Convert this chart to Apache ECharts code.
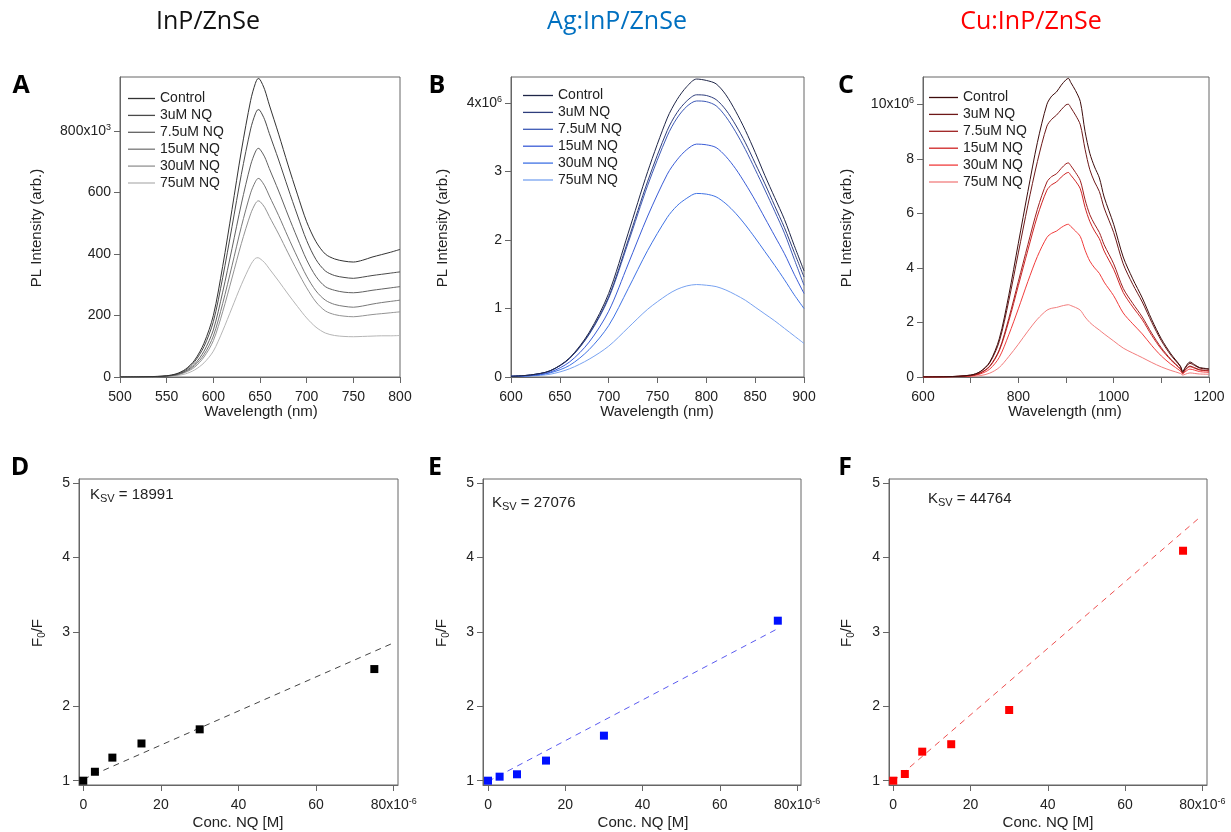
<!DOCTYPE html>
<html><head><meta charset="utf-8">
<script src="https://cdn.jsdelivr.net/npm/echarts@6/dist/echarts.min.js"></script>
<style>html,body{margin:0;padding:0;background:#fff}#c{width:1231px;height:832px}</style>
</head><body><div id="c"></div>
<script>
// ---------- DATA ----------
const seriesNames = ['Control','3uM NQ','7.5uM NQ','15uM NQ','30uM NQ','75uM NQ'];

// Panel A: InP/ZnSe, PL intensity in units of 1e3
const wlA = [500,520,540,550,560,570,580,590,600,610,620,630,640,645,648,650,655,660,670,680,690,700,710,720,730,740,750,760,770,780,790,800];
const inpControl = [0,0.5,2,4,10,25,55,110,200,360,545,735,900,955,971,968,935,885,790,690,595,505,440,400,384,377,374,380,390,398,406,415];
const inp3 = [0,0.5,1.8,3.6,9,22,50,99,180,323,489,659,807,856,870,867,837,792,706,615,527,444,382,345,330,324,321,325,330,334,338,342];
const inp7_5 = [0,0.4,1.5,3.1,7.7,19,42,84,153,276,418,563,690,732,744,741,716,678,605,527,452,381,327,294,282,276,274,277,282,286,290,294];
const inp15 = [0,0.3,1.3,2.7,6.7,17,37,73,133,239,362,489,599,635,646,644,622,589,525,456,390,328,280,250,236,230,227,231,237,242,246,250];
const inp30 = [0,0.3,1.2,2.4,5.9,15,32,65,118,212,322,434,531,564,573,571,552,522,465,404,345,290,244,215,203,198,196,199,203,206,209,212];
const inp75 = [0,0.2,0.8,1.7,4.2,10,23,46,84,150,225,300,365,386,388,385,372,352,312,270,230,192,162,143,135,132,131,132,133,134,134,135];

// Panel B: Ag:InP/ZnSe, units of 1e6
const wlB = [600,620,640,660,680,700,720,740,760,770,780,790,800,810,820,830,840,850,860,870,880,890,900];
const agControl = [0.01,0.03,0.09,0.28,0.65,1.22,2.1,3.0,3.78,4.05,4.24,4.35,4.33,4.28,4.12,3.88,3.6,3.28,2.94,2.62,2.3,1.92,1.55];
const ag3 = [0.01,0.03,0.09,0.27,0.63,1.17,2.0,2.86,3.6,3.86,4.03,4.12,4.11,4.05,3.9,3.68,3.42,3.12,2.82,2.5,2.18,1.82,1.46];
const ag7_5 = [0.01,0.03,0.09,0.27,0.62,1.15,1.96,2.8,3.52,3.78,3.95,4.03,4.02,3.96,3.8,3.58,3.32,3.03,2.73,2.42,2.1,1.72,1.34];
const ag15 = [0.01,0.02,0.07,0.22,0.51,0.96,1.65,2.35,2.96,3.17,3.32,3.4,3.39,3.35,3.22,3.04,2.82,2.58,2.32,2.06,1.8,1.5,1.22];
const ag30 = [0.01,0.02,0.06,0.17,0.4,0.75,1.29,1.85,2.33,2.5,2.61,2.68,2.67,2.63,2.53,2.39,2.22,2.03,1.83,1.63,1.42,1.2,1.0];
const ag75 = [0.005,0.015,0.04,0.12,0.26,0.45,0.72,0.99,1.2,1.28,1.33,1.35,1.34,1.32,1.27,1.2,1.12,1.02,0.92,0.82,0.71,0.6,0.49];

// Panel C: Cu:InP/ZnSe, units of 1e6
const wlC = [600,650,700,720,740,760,780,800,820,840,860,870,880,890,900,905,910,920,930,940,950,960,970,980,1000,1020,1040,1060,1080,1100,1120,1140,1145,1150,1160,1170,1180,1200];
const cuControl = [0,0.01,0.07,0.2,0.55,1.4,3.0,4.9,6.8,8.6,10.0,10.3,10.45,10.7,10.9,10.95,10.8,10.5,10.1,9.0,8.2,7.7,7.3,6.6,5.6,4.4,3.6,2.9,2.1,1.4,0.85,0.4,0.2,0.35,0.55,0.45,0.35,0.3];
const cu3 = [0,0.01,0.07,0.19,0.52,1.3,2.8,4.55,6.3,7.9,9.2,9.45,9.6,9.8,9.98,10.0,9.88,9.6,9.25,8.35,7.6,7.15,6.8,6.2,5.3,4.15,3.4,2.75,2.0,1.33,0.8,0.38,0.18,0.32,0.5,0.42,0.33,0.28];
const cu7_5 = [0,0.01,0.05,0.15,0.4,1.0,2.15,3.5,4.85,6.15,7.15,7.35,7.45,7.65,7.82,7.85,7.75,7.5,7.2,6.5,5.95,5.6,5.3,4.85,4.15,3.25,2.7,2.2,1.6,1.07,0.65,0.3,0.15,0.27,0.4,0.34,0.27,0.23];
const cu15 = [0,0.01,0.05,0.14,0.38,0.96,2.05,3.35,4.65,5.9,6.85,7.05,7.15,7.33,7.47,7.5,7.4,7.18,6.9,6.22,5.7,5.35,5.07,4.62,3.95,3.1,2.57,2.1,1.52,1.02,0.62,0.29,0.14,0.25,0.38,0.32,0.26,0.22];
const cu30 = [0,0.005,0.04,0.11,0.29,0.72,1.55,2.5,3.5,4.42,5.12,5.27,5.35,5.48,5.58,5.6,5.52,5.35,5.15,4.65,4.25,4.0,3.8,3.48,2.98,2.35,1.95,1.58,1.15,0.77,0.47,0.22,0.11,0.19,0.29,0.25,0.2,0.17];
const cu75 = [0,0.003,0.02,0.05,0.14,0.35,0.75,1.2,1.68,2.12,2.45,2.52,2.55,2.6,2.64,2.65,2.62,2.55,2.45,2.2,2.0,1.85,1.72,1.58,1.32,1.06,0.88,0.71,0.53,0.37,0.24,0.13,0.07,0.1,0.15,0.13,0.11,0.1];

// Stern-Volmer panels: concentration in units of 1e-6 M
const concNQ = [0, 3, 7.5, 15, 30, 75];
const f0fInP = [1.0, 1.12, 1.31, 1.50, 1.69, 2.50];
const f0fAg = [1.0, 1.054, 1.086, 1.27, 1.605, 3.15];
const f0fCu = [1.0, 1.09, 1.39, 1.49, 1.95, 4.09];
const fitInP = [[0, 1.02], [80.3, 2.86]];
const fitAg = [[0, 0.99], [74.5, 3.03]];
const fitCu = [[0, 0.99], [79.6, 4.55]];
const ksvLabels = ['18991', '27076', '44764'];

// tick label values
const ticksA = [0, 200, 400, 600, 800];
const ticksB = [0, 1, 2, 3, 4];
const ticksC = [0, 2, 4, 6, 8, 10];
const ticksSVx = [0, 20, 40, 60, 80];
const ticksSVy = [1, 2, 3, 4, 5];

// ---------- STYLE ----------
const FONT = 'Liberation Sans, Arial, sans-serif';
const colA = ['#333333','#4a4a4a','#616161','#787878','#939393','#b5b5b5'];
const colB = ['#1f2648','#2e3d7c','#3d59b6','#3a5cd6','#3f72e4','#78a2f0'];
const colC = ['#3d0c0c','#6e1818','#9e1f1f','#cf2323','#f03c3c','#f27d7d'];
const AX = '#666';
const rich = {
  n: {fontSize: 14, fontFamily: FONT, color: '#222', lineHeight: 16},
  s: {fontSize: 9, fontFamily: FONT, color: '#222', lineHeight: 8, verticalAlign: 'top'}
};

function pair(xs, ys) { return xs.map((x, i) => [x, ys[i]]); }

const grids = [
  {left: 120, top: 77, width: 280, height: 300},
  {left: 511, top: 77, width: 293, height: 300},
  {left: 923, top: 77, width: 286, height: 300},
  {left: 79, top: 479, width: 319, height: 306},
  {left: 483, top: 479, width: 318, height: 306},
  {left: 889, top: 479, width: 318, height: 306}
].map(g => Object.assign({show: true, borderColor: AX, borderWidth: 1, containLabel: false}, g));

function axBase(gi) {
  return {
    type: 'value', gridIndex: gi,
    axisLine: {show: true, onZero: false, lineStyle: {color: AX, width: 1}},
    axisTick: {show: true, length: 6, inside: false, lineStyle: {color: AX}},
    splitLine: {show: false}
  };
}
function xAx(gi, min, max, interval, fmt, custom) {
  const a = axBase(gi);
  a.position = 'bottom';
  a.min = min; a.max = max;
  if (interval) a.interval = interval;
  a.axisLabel = {margin: 12, rich: rich, formatter: fmt};
  if (custom) { a.axisLabel.customValues = custom; a.axisTick.customValues = custom; }
  return a;
}
function yAx(gi, min, max, fmt, custom) {
  const a = axBase(gi);
  a.position = 'left';
  a.min = min; a.max = max;
  a.axisLabel = {margin: 9, rich: rich, formatter: fmt, customValues: custom};
  a.axisTick.customValues = custom;
  return a;
}
const plain = v => '{n|' + v + '}';
const svx = v => (v === 80 ? '{n|80x10}{s|-6}' : plain(v));
const xAxes = [
  xAx(0, 500, 800, 50, plain),
  xAx(1, 600, 900, 50, plain),
  xAx(2, 600, 1200, 100, v => (v % 200 === 0 ? '{n|' + v + '}' : '')),
  xAx(3, -1.1, 81.1, null, svx, ticksSVx),
  xAx(4, -1.3, 81.0, null, svx, ticksSVx),
  xAx(5, -1.1, 81.2, null, svx, ticksSVx)
];
const yAxes = [
  yAx(0, 0, 976, v => (v === 800 ? '{n|800x10}{s|3}' : plain(v)), ticksA),
  yAx(1, 0, 4.38, v => (v === 4 ? '{n|4x10}{s|6}' : plain(v)), ticksB),
  yAx(2, 0, 11, v => (v === 10 ? '{n|10x10}{s|6}' : plain(v)), ticksC),
  yAx(3, 0.942, 5.054, plain, ticksSVy),
  yAx(4, 0.942, 5.054, plain, ticksSVy),
  yAx(5, 0.942, 5.054, plain, ticksSVy)
];

const series = [];
function addSpectra(tag, gi, wl, arrs, cols) {
  arrs.forEach((vals, k) => {
    series.push({
      type: 'line', name: tag + '|' + seriesNames[k], xAxisIndex: gi, yAxisIndex: gi,
      data: pair(wl, vals), symbol: 'none', showSymbol: false, smooth: 0.3,
      lineStyle: {color: cols[k], width: 1}, itemStyle: {color: cols[k]}, z: 10 - k
    });
  });
}
addSpectra('A', 0, wlA, [inpControl, inp3, inp7_5, inp15, inp30, inp75], colA);
addSpectra('B', 1, wlB, [agControl, ag3, ag7_5, ag15, ag30, ag75], colB);
addSpectra('C', 2, wlC, [cuControl, cu3, cu7_5, cu15, cu30, cu75], colC);

function addSV(gi, ys, fit, mcol, lcol) {
  series.push({type: 'line', xAxisIndex: gi, yAxisIndex: gi, data: fit, symbol: 'none',
    lineStyle: {color: lcol, width: 1, type: [6, 5]}, z: 3});
  series.push({type: 'scatter', xAxisIndex: gi, yAxisIndex: gi, data: pair(concNQ, ys),
    symbol: 'rect', symbolSize: 8, itemStyle: {color: mcol, opacity: 1}, z: 5});
}
addSV(3, f0fInP, fitInP, '#000000', '#444444');
addSV(4, f0fAg, fitAg, '#0010ff', '#5a5af0');
addSV(5, f0fCu, fitCu, '#ff0000', '#ee5050');

function legend(tag, left, top, w) {
  return {
    data: seriesNames.map(n => tag + '|' + n), orient: 'vertical', left: left, top: top,
    padding: 0, icon: 'rect', itemWidth: w, itemHeight: 1.3, itemGap: 1.9, selectedMode: false,
    formatter: n => n.split('|')[1],
    textStyle: {fontSize: 14, fontFamily: FONT, color: '#222', lineHeight: 15}
  };
}

function txt(x, y, text, size, color, extra) {
  return Object.assign({type: 'text', x: x, y: y, silent: true,
    style: Object.assign({text: text, fontSize: size, fontFamily: FONT, fill: color || '#222',
      align: 'center', verticalAlign: 'middle'}, (extra && extra.style) || {})},
    extra && extra.rotation ? {rotation: extra.rotation} : {});
}
const TF = 'Open Sans, Lato, sans-serif';
const ksvRich = {
  k: {fontSize: 15, fontFamily: FONT, fill: '#222', lineHeight: 19},
  s: {fontSize: 11, fontFamily: FONT, fill: '#222', lineHeight: 8, verticalAlign: 'bottom'}
};
const f0Rich = {
  k: {fontSize: 15, fontFamily: FONT, fill: '#222', lineHeight: 19},
  s: {fontSize: 10, fontFamily: FONT, fill: '#222', lineHeight: 8, verticalAlign: 'bottom'}
};
const LB = {style: {fontFamily: TF, fontWeight: 'bold'}};
const graphics = [
  txt(208, 22, 'InP/ZnSe', 25, '#111', {style: {fontFamily: TF}}),
  txt(617, 22, 'Ag:InP/ZnSe', 25, '#0070c0', {style: {fontFamily: TF}}),
  txt(1031, 22, 'Cu:InP/ZnSe', 25, '#ff0000', {style: {fontFamily: TF}}),
  txt(21, 86, 'A', 25, '#000', LB),
  txt(437, 86, 'B', 25, '#000', LB),
  txt(846, 86, 'C', 25, '#000', LB),
  txt(20, 468, 'D', 25, '#000', LB),
  txt(435, 468, 'E', 25, '#000', LB),
  txt(845, 468, 'F', 25, '#000', LB),
  txt(261, 412, 'Wavelength (nm)', 15),
  txt(657, 412, 'Wavelength (nm)', 15),
  txt(1065, 412, 'Wavelength (nm)', 15),
  txt(37, 228, 'PL Intensity (arb.)', 15, null, {rotation: Math.PI / 2}),
  txt(443, 228, 'PL Intensity (arb.)', 15, null, {rotation: Math.PI / 2}),
  txt(847, 228, 'PL Intensity (arb.)', 15, null, {rotation: Math.PI / 2}),
  txt(238, 823, 'Conc. NQ [M]', 15),
  txt(643, 823, 'Conc. NQ [M]', 15),
  txt(1048, 823, 'Conc. NQ [M]', 15),
  txt(38, 633, '{k|F}{s|0}{k|/F}', 15, null, {rotation: Math.PI / 2, style: {rich: f0Rich}}),
  txt(442, 633, '{k|F}{s|0}{k|/F}', 15, null, {rotation: Math.PI / 2, style: {rich: f0Rich}}),
  txt(847, 633, '{k|F}{s|0}{k|/F}', 15, null, {rotation: Math.PI / 2, style: {rich: f0Rich}}),
  txt(90, 495, '{k|K}{s|SV}{k| = ' + ksvLabels[0] + '}', 15, null, {style: {align: 'left', rich: ksvRich}}),
  txt(492, 503, '{k|K}{s|SV}{k| = ' + ksvLabels[1] + '}', 15, null, {style: {align: 'left', rich: ksvRich}}),
  txt(928, 499, '{k|K}{s|SV}{k| = ' + ksvLabels[2] + '}', 15, null, {style: {align: 'left', rich: ksvRich}})
];

const chart = echarts.init(document.getElementById('c'), null, {renderer: 'canvas'});
chart.setOption({
  animation: false,
  backgroundColor: '#ffffff',
  grid: grids,
  xAxis: xAxes,
  yAxis: yAxes,
  legend: [legend('A', 128, 91, 27), legend('B', 523, 88, 30), legend('C', 929, 90, 29)],
  series: series,
  graphic: graphics
});
</script>
</body></html>
